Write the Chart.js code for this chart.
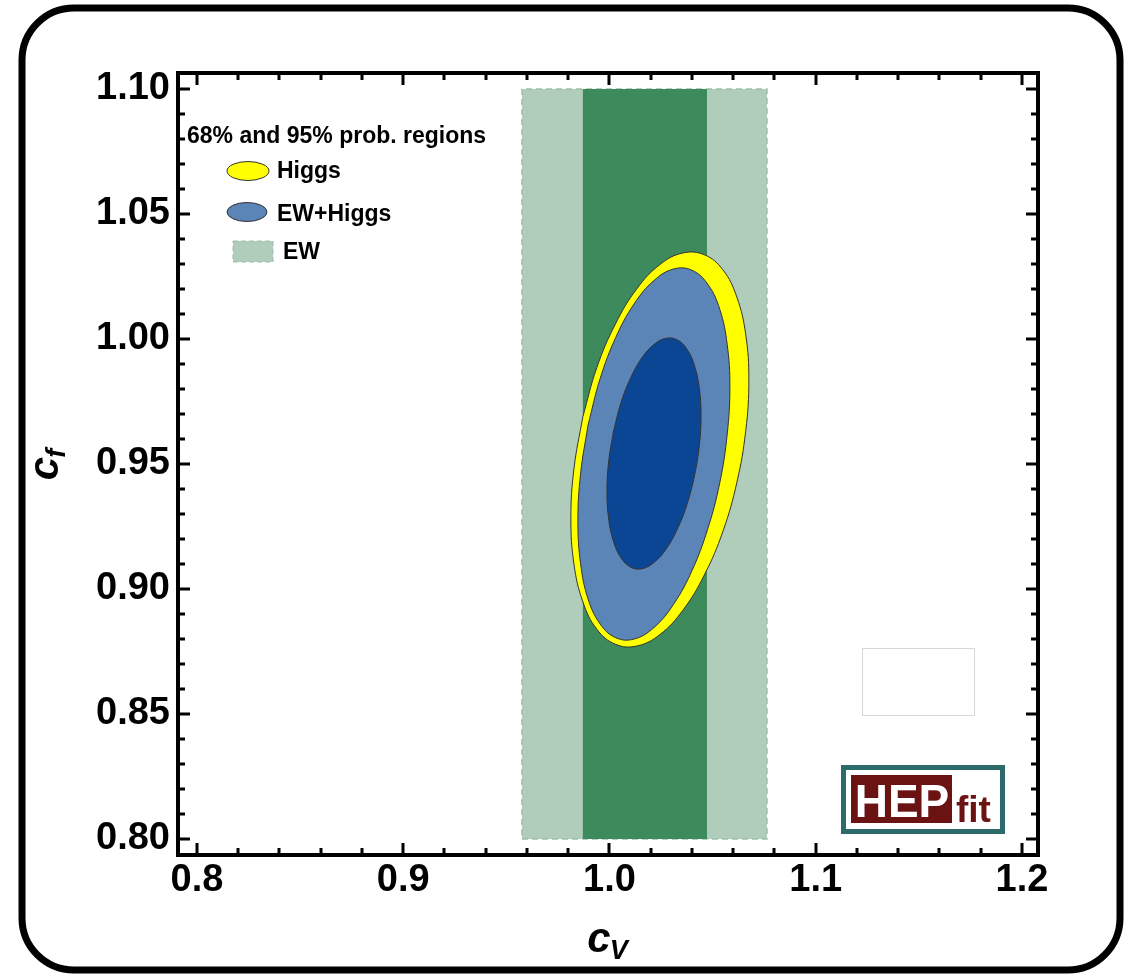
<!DOCTYPE html>
<html>
<head>
<meta charset="utf-8">
<title>cV - cf probability regions</title>
<script src="https://cdn.jsdelivr.net/npm/chart.js@4.4.1/dist/chart.umd.min.js"></script>
<style>
  html, body { margin: 0; padding: 0; background: #fff; }
  canvas { display: block; }
</style>
</head>
<body>
<canvas id="chart" width="1132" height="976"></canvas>
<script>
// tick values and labels
const xTicks = [0.8, 0.9, 1.0, 1.1, 1.2];
const xTickLabels = ['0.8', '0.9', '1.0', '1.1', '1.2'];
const yTicks = [0.80, 0.85, 0.90, 0.95, 1.00, 1.05, 1.10];
const yTickLabels = ['0.80', '0.85', '0.90', '0.95', '1.00', '1.05', '1.10'];

// EW fit only constrains cV -> vertical bands (95% light, 68% dark)
const ew95Cv = [0.9576, 1.0764, 1.0764, 0.9576, 0.9576];
const ew95Cf = [0.80, 0.80, 1.10, 1.10, 0.80];
const ew68Cv = [0.9871, 1.0473, 1.0473, 0.9871, 0.9871];
const ew68Cf = [0.80, 0.80, 1.10, 1.10, 0.80];

// Higgs 95% contour (points along the boundary)
const higgs95Cv = [0.9871, 0.9939, 1.0029, 1.0133, 1.0245, 1.0356, 1.0460, 1.0550, 1.0618, 1.0661, 1.0676, 1.0661,
                   1.0618, 1.0550, 1.0460, 1.0356, 1.0245, 1.0133, 1.0029, 0.9939, 0.9871, 0.9828, 0.9813, 0.9828, 0.9871];
const higgs95Cf = [0.9689, 0.9886, 1.0060, 1.0201, 1.0298, 1.0344, 1.0337, 1.0277, 1.0167, 1.0017, 0.9835, 0.9634,
                   0.9427, 0.9230, 0.9056, 0.8915, 0.8818, 0.8772, 0.8779, 0.8839, 0.8949, 0.9099, 0.9282, 0.9482, 0.9689];

// EW+Higgs 95% contour
const ewHiggs95Cv = [0.9896, 0.9955, 1.0031, 1.0120, 1.0216, 1.0311, 1.0400, 1.0476, 1.0535, 1.0571, 1.0584, 1.0571,
                     1.0535, 1.0476, 1.0400, 1.0311, 1.0216, 1.0120, 1.0031, 0.9955, 0.9896, 0.9860, 0.9847, 0.9860, 0.9896];
const ewHiggs95Cf = [0.9655, 0.9842, 1.0007, 1.0141, 1.0234, 1.0280, 1.0275, 1.0220, 1.0119, 0.9978, 0.9808, 0.9619,
                     0.9425, 0.9239, 0.9073, 0.8939, 0.8846, 0.8800, 0.8805, 0.8860, 0.8961, 0.9102, 0.9272, 0.9461, 0.9655];

// EW+Higgs 68% contour
const ewHiggs68Cv = [1.0019, 1.0055, 1.0102, 1.0157, 1.0216, 1.0275, 1.0330, 1.0377, 1.0413, 1.0436, 1.0444, 1.0436,
                     1.0413, 1.0377, 1.0330, 1.0275, 1.0216, 1.0157, 1.0102, 1.0055, 1.0019, 0.9996, 0.9988, 0.9996, 1.0019];
const ewHiggs68Cf = [0.9628, 0.9743, 0.9843, 0.9924, 0.9978, 1.0003, 0.9996, 0.9958, 0.9892, 0.9802, 0.9695, 0.9576,
                     0.9456, 0.9341, 0.9241, 0.9160, 0.9106, 0.9081, 0.9088, 0.9126, 0.9192, 0.9282, 0.9390, 0.9508, 0.9628];

const legendTitle = '68% and 95% prob. regions';
const legendLabels = ['Higgs', 'EW+Higgs', 'EW'];

const FONT = '"Liberation Sans", Arial, Helvetica, sans-serif';
const colors = {
  ewLight: '#afcdba',
  ewLightEdge: '#9cc0a8',
  ewDark: '#3d8a5d',
  higgs: '#ffff00',
  ewHiggs95: '#5b84b7',
  ewHiggs68: '#0b4695',
  edge: '#333333'
};

const pts = (xs, ys) => xs.map((v, i) => ({ x: v, y: ys[i] }));

const region = (label, xs, ys, fill, order, extra) => Object.assign({
  label: label,
  data: pts(xs, ys),
  showLine: true,
  fill: 'shape',
  backgroundColor: fill,
  borderColor: colors.edge,
  borderWidth: 1,
  pointRadius: 0,
  pointHoverRadius: 0,
  tension: 0.4,
  order: order
}, extra || {});

// frame, inward ticks, axis titles, legend and logo
const decorations = {
  id: 'decorations',
  afterDraw(chart) {
    const { ctx, chartArea: a, scales: { x, y } } = chart;
    ctx.save();

    // plot frame
    ctx.strokeStyle = '#000';
    ctx.lineWidth = 4;
    ctx.strokeRect(a.left, a.top, a.right - a.left, a.bottom - a.top);

    // inward ticks on all four sides
    ctx.lineWidth = 3;
    ctx.beginPath();
    for (let i = 0; i <= 20; i++) {
      const px = Math.round(x.getPixelForValue(0.8 + i * 0.02));
      const len = i % 5 === 0 ? 12 : 7;
      ctx.moveTo(px, a.bottom); ctx.lineTo(px, a.bottom - len);
      ctx.moveTo(px, a.top); ctx.lineTo(px, a.top + len);
    }
    for (let i = 0; i <= 30; i++) {
      const py = Math.round(y.getPixelForValue(0.8 + i * 0.01));
      const len = i % 5 === 0 ? 12 : 7;
      ctx.moveTo(a.left, py); ctx.lineTo(a.left + len, py);
      ctx.moveTo(a.right, py); ctx.lineTo(a.right - len, py);
    }
    ctx.stroke();

    // axis titles with subscripts
    ctx.fillStyle = '#000';
    ctx.textBaseline = 'alphabetic';
    ctx.textAlign = 'left';
    const bigF = 'italic bold 42px ' + FONT;
    const subF = 'italic bold 27px ' + FONT;
    const drawSub = (main, sub, cx, base) => {
      ctx.font = bigF;
      const w1 = ctx.measureText(main).width;
      ctx.font = subF;
      const w2 = ctx.measureText(sub).width;
      const x0 = cx - (w1 + w2) / 2;
      ctx.font = bigF;
      ctx.fillText(main, x0, base);
      ctx.font = subF;
      ctx.fillText(sub, x0 + w1 - 1, base + 7);
    };
    drawSub('c', 'V', (a.left + a.right) / 2, 952);
    ctx.save();
    ctx.translate(58, (a.top + a.bottom) / 2);
    ctx.rotate(-Math.PI / 2);
    drawSub('c', 'f', 0, 0);
    ctx.restore();

    // legend
    ctx.font = 'bold 23px ' + FONT;
    ctx.fillText(legendTitle, a.left + 9, 143);
    ctx.lineWidth = 1;
    ctx.strokeStyle = colors.edge;
    ctx.beginPath();
    ctx.ellipse(248, 171, 21, 9.5, 0, 0, Math.PI * 2);
    ctx.fillStyle = colors.higgs; ctx.fill(); ctx.stroke();
    ctx.beginPath();
    ctx.ellipse(247, 212, 20, 9.5, 0, 0, Math.PI * 2);
    ctx.fillStyle = colors.ewHiggs95; ctx.fill(); ctx.stroke();
    ctx.fillStyle = colors.ewLight;
    ctx.fillRect(233, 241, 40, 21);
    ctx.setLineDash([5, 3]);
    ctx.strokeStyle = colors.ewLightEdge;
    ctx.strokeRect(233, 241, 40, 21);
    ctx.setLineDash([]);
    ctx.fillStyle = '#000';
    ctx.fillText(legendLabels[0], 277, 178);
    ctx.fillText(legendLabels[1], 277, 221);
    ctx.fillText(legendLabels[2], 283, 259);

    // empty inset box
    ctx.strokeStyle = '#d8d8d8';
    ctx.lineWidth = 1;
    ctx.strokeRect(862.5, 648.5, 112, 67);

    // HEPfit logo
    ctx.fillStyle = '#fff';
    ctx.fillRect(841, 765, 164, 69);
    ctx.strokeStyle = '#2d6b6b';
    ctx.lineWidth = 5;
    ctx.strokeRect(843.5, 767.5, 159, 64);
    ctx.fillStyle = '#6b1313';
    ctx.fillRect(851, 775, 101, 48);
    ctx.fillStyle = '#fff';
    ctx.font = 'bold 46px ' + FONT;
    ctx.textAlign = 'center';
    ctx.fillText('HEP', 902, 817);
    ctx.fillStyle = '#6b1313';
    ctx.font = 'bold 37px ' + FONT;
    ctx.textAlign = 'left';
    ctx.fillText('fit', 956, 822);

    // outer rounded border
    ctx.strokeStyle = '#000';
    ctx.lineWidth = 7;
    ctx.beginPath();
    ctx.roundRect(22, 8, 1098, 962, 52);
    ctx.stroke();

    ctx.restore();
  }
};

new Chart(document.getElementById('chart'), {
  type: 'scatter',
  data: {
    datasets: [
      region('EW+Higgs 68%', ewHiggs68Cv, ewHiggs68Cf, colors.ewHiggs68, 1),
      region('EW+Higgs 95%', ewHiggs95Cv, ewHiggs95Cf, colors.ewHiggs95, 2),
      region('Higgs 95%', higgs95Cv, higgs95Cf, colors.higgs, 3),
      region('EW 68%', ew68Cv, ew68Cf, colors.ewDark, 4, { tension: 0, borderWidth: 0 }),
      region('EW 95%', ew95Cv, ew95Cf, colors.ewLight, 5,
        { tension: 0, borderWidth: 1.5, borderColor: colors.ewLightEdge, borderDash: [6, 4] })
    ]
  },
  options: {
    responsive: false,
    animation: false,
    devicePixelRatio: 1,
    layout: { padding: { left: 0, top: 73, right: 94, bottom: 0 } },
    plugins: {
      legend: { display: false },
      tooltip: { enabled: false }
    },
    scales: {
      x: {
        type: 'linear',
        min: 0.7908,
        max: 1.2078,
        afterBuildTicks: s => { s.ticks = xTicks.map(v => ({ value: v })); },
        afterFit: s => { s.height = 121; },
        grid: { display: false, drawTicks: false },
        border: { display: false },
        ticks: {
          autoSkip: false,
          maxRotation: 0,
          padding: 3,
          color: '#000',
          font: { family: FONT, size: 38, weight: 'bold' },
          callback: (v, i) => xTickLabels[i]
        }
      },
      y: {
        type: 'linear',
        min: 0.7936,
        max: 1.1064,
        afterBuildTicks: s => { s.ticks = yTicks.map(v => ({ value: v })); },
        afterFit: s => { s.width = 178; },
        grid: { display: false, drawTicks: false },
        border: { display: false },
        ticks: {
          autoSkip: false,
          padding: 8,
          color: '#000',
          font: { family: FONT, size: 38, weight: 'bold' },
          callback: (v, i) => yTickLabels[i]
        }
      }
    }
  },
  plugins: [decorations]
});
</script>
</body>
</html>
